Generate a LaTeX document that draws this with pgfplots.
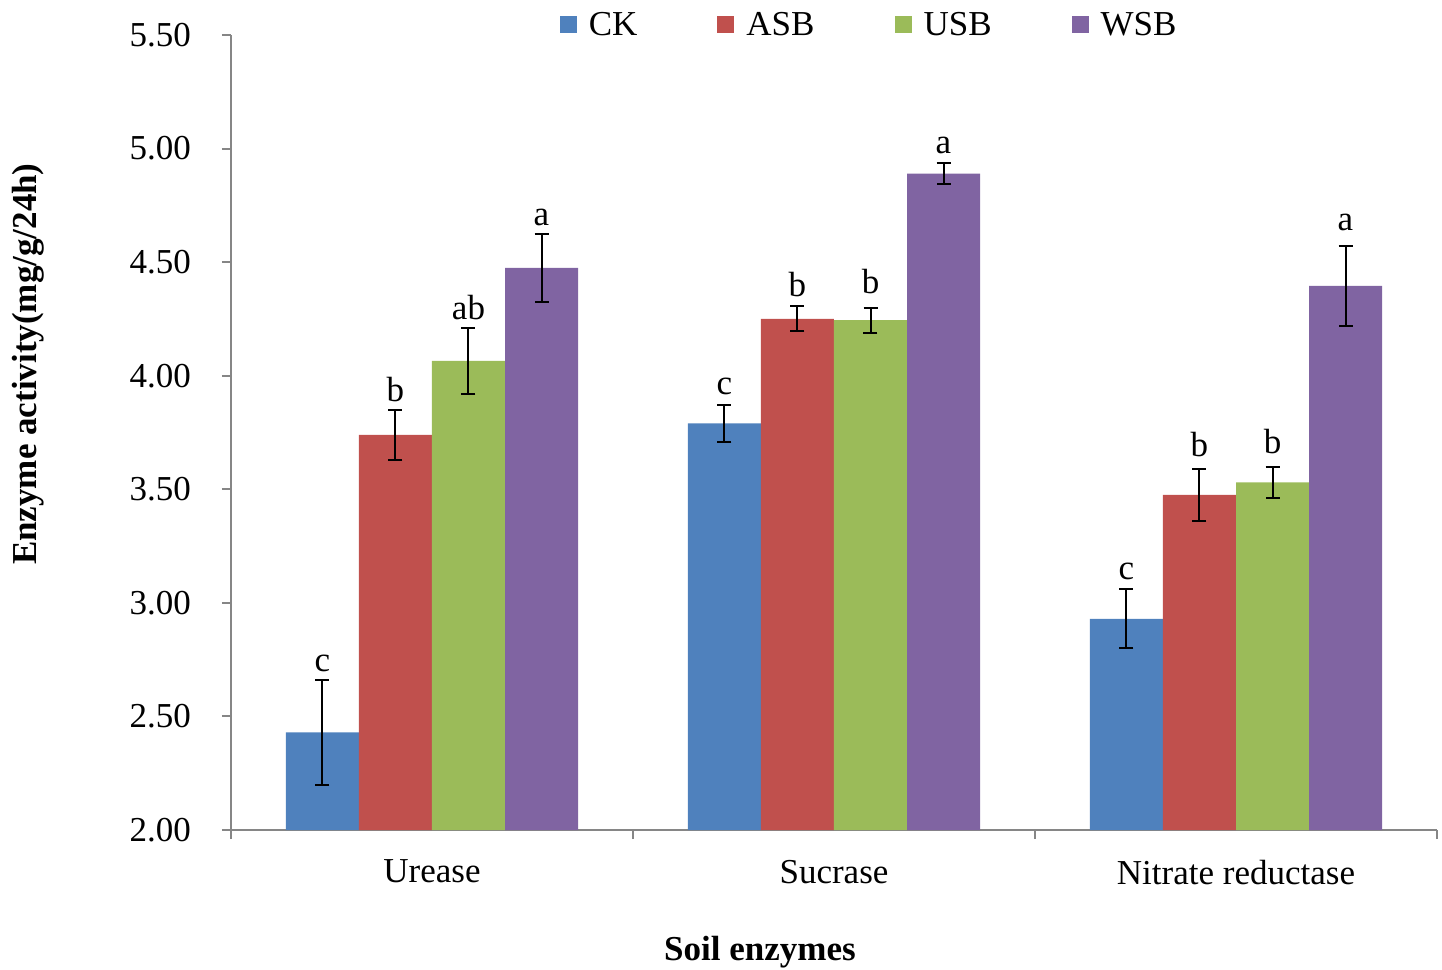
\documentclass[border=0pt]{standalone}
\usepackage{fontspec}
\setmainfont{Liberation Serif}
\usepackage{pgfplots}
\usepackage{pgfplotstable}
\pgfplotsset{compat=1.18}
\definecolor{ckc}{HTML}{4F81BD}
\definecolor{asbc}{HTML}{C0504D}
\definecolor{usbc}{HTML}{9BBB59}
\definecolor{wsbc}{HTML}{8064A2}
\definecolor{axgray}{HTML}{868686}

\pgfplotstableread{
x CK CKe ASB ASBe USB USBe WSB WSBe
0 2.43 0.23 3.74 0.11 4.065 0.145 4.475 0.15
1 3.79 0.08 4.25 0.055 4.245 0.055 4.89 0.045
2 2.93 0.13 3.475 0.115 3.53 0.07 4.395 0.175
}\datatable

\pgfplotstableread{
x y lab
-0.2724 2.66 c
0.7276 3.88 c
1.7276 3.065 c
-0.0908 3.85 b
0.9092 4.31 b
1.9092 3.605 b
0.0908 4.21 ab
1.0908 4.325 b
2.0908 3.62 b
0.2724 4.625 a
1.2724 4.94 a
2.2724 4.60 a
}\labtable

\begin{document}
\begin{tikzpicture}[font=\fontsize{17.5}{21}\selectfont]
\begin{axis}[
  name=ax,
  scale only axis,
  width=603pt, height=397.5pt,
  ybar, bar width=0.1816,
  xmin=-0.5, xmax=2.5,
  ymin=2, ymax=5.5,
  ytick={2,2.5,...,5.5},
  yticklabel style={/pgf/number format/fixed, /pgf/number format/fixed zerofill, /pgf/number format/precision=2},
  /pgf/number format/assume math mode=true,
  xtick={0,1,2},
  xticklabels={Urease,Sucrase,Nitrate reductase},
  minor xtick={-0.5,0.5,1.5,2.5},
  major tick length=4.5pt,
  minor tick length=4.5pt,
  tick align=outside,
  axis lines*=left,
  axis line style={draw=axgray, line width=1pt},
  tick style={draw=axgray, line width=1pt},
  major x tick style={draw=none},
  tick label style={font=\fontsize{17.5}{21}\selectfont},
  xticklabel style={yshift=-7pt},
  yticklabel style={xshift=-12pt},
  clip=false,
  legend columns=4,
  legend style={draw=none, fill=none, at={(0.53,1)}, anchor=center, yshift=5pt,
    font=\fontsize{17.5}{21}\selectfont,
    /tikz/every odd column/.append style={column sep=4pt},
    /tikz/every even column/.append style={column sep=38pt}},
  legend image code/.code={\fill[#1] (0pt,-4.25pt) rectangle (8.5pt,4.25pt);},
  error bars/y dir=both,
  error bars/y explicit,
  error bars/error mark options={draw=black, line width=1pt, mark size=3.5pt, rotate=90},
  error bars/error bar style={draw=black, line width=1pt},
]
\addplot[bar shift=-0.2724, fill=ckc, draw=none] table[x=x, y=CK, y error=CKe] {\datatable};
\addlegendentry{CK}
\addplot[bar shift=-0.0908, fill=asbc, draw=none] table[x=x, y=ASB, y error=ASBe] {\datatable};
\addlegendentry{ASB}
\addplot[bar shift=0.0908, fill=usbc, draw=none] table[x=x, y=USB, y error=USBe] {\datatable};
\addlegendentry{USB}
\addplot[bar shift=0.2724, fill=wsbc, draw=none] table[x=x, y=WSB, y error=WSBe] {\datatable};
\addlegendentry{WSB}
\addplot[sharp plot, bar shift=0, draw=none, mark=none, forget plot, error bars/y dir=none,
  nodes near coords, point meta=explicit symbolic,
  every node near coord/.append style={anchor=south, inner sep=0pt, yshift=4pt, font=\fontsize{17.5}{21}\selectfont}]
  table[x=x, y=y, meta=lab] {\labtable};
\node[rotate=90, font=\fontsize{17.5}{21}\selectfont\bfseries] at (rel axis cs:-0.168,0.586) {Enzyme activity(mg/g/24h)};
\node[font=\fontsize{17.5}{21}\selectfont\bfseries] at (rel axis cs:0.4386,-0.1535) {Soil enzymes};
\end{axis}
\pgfresetboundingbox
\path ([shift={(-115.5pt,-70pt)}]ax.south west) rectangle ([shift={(605.5pt,415pt)}]ax.south west);
\end{tikzpicture}
\end{document}
